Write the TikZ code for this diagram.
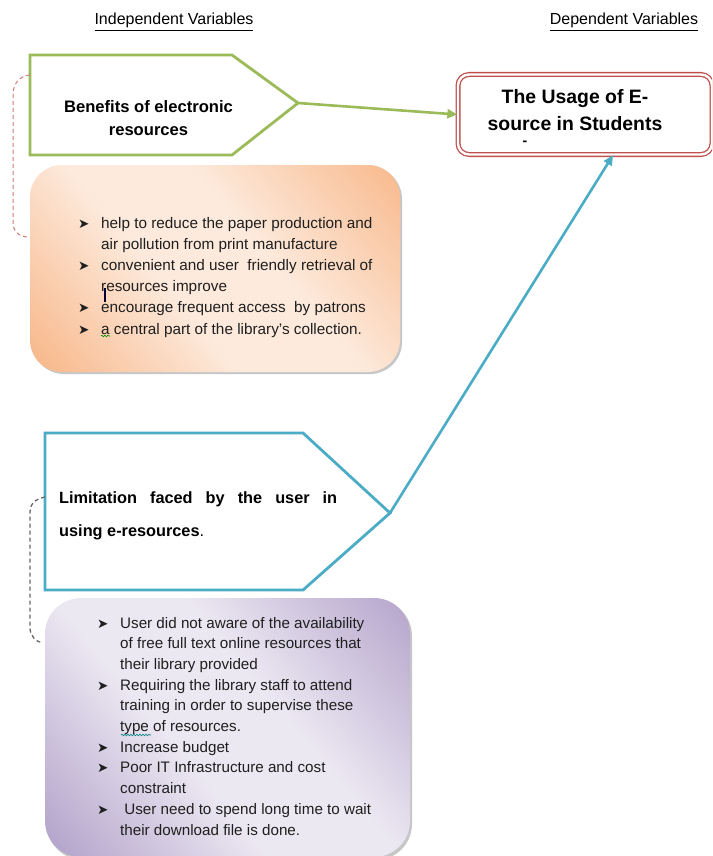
\documentclass[tikz,border=0pt]{standalone}
\usepackage{fontspec}
\setmainfont{Liberation Sans}
\newfontfamily\dejavu{DejaVu Sans}
\usetikzlibrary{arrows.meta,decorations.pathmorphing}
\definecolor{ogreen}{RGB}{155,187,89}
\definecolor{oblue}{RGB}{75,172,198}
\definecolor{ored}{RGB}{192,80,77}
\definecolor{orangeout}{RGB}{247,176,126}
\definecolor{orangein}{RGB}{253,234,220}
\definecolor{purpout}{RGB}{170,152,196}
\definecolor{purpin}{RGB}{236,232,242}
\pgfdeclarehorizontalshading{orangelin}{100bp}{color(0bp)=(orangeout); color(12bp)=(orangeout); color(42bp)=(orangein); color(58bp)=(orangein); color(90bp)=(orangeout); color(100bp)=(orangeout)}
\pgfdeclarehorizontalshading{purplin}{100bp}{color(0bp)=(purpout); color(12bp)=(purpout); color(42bp)=(purpin); color(58bp)=(purpin); color(90bp)=(purpout); color(100bp)=(purpout)}
\newcommand{\bul}{{\dejavu\fontsize{13.5}{12}\selectfont ➤}}
\begin{document}
\begin{tikzpicture}[x=1pt,y=-1pt,
  header/.style={font=\fontsize{16}{19}\selectfont, anchor=base, inner sep=0pt},
  pentgreen/.style={draw=ogreen, line width=2.8pt, fill=white, line join=miter},
  pentblue/.style={draw=oblue, line width=2.8pt, fill=white, line join=miter},
  conn/.style={line width=2.6pt, -{Triangle[length=10pt,width=9pt]}},
  rdash/.style={draw=ored!75, line width=1pt, dash pattern=on 4pt off 3pt},
  gdash/.style={draw=black!60, line width=1.3pt, dash pattern=on 4pt off 3pt},
  listtext/.style={anchor=base west, inner sep=0pt, text=black!88},
  usagebox/.style={draw=ored, line width=1.3pt, double=white, double distance=2.4pt, rounded corners=11pt, minimum width=254pt, minimum height=80pt, inner sep=0pt},
  squig/.style={decorate, decoration={snake, amplitude=0.8pt, segment length=3pt}, line width=0.6pt}
]
\clip (0,0) rectangle (712,856);
\fill[white] (0,0) rectangle (712,856);

% headers
\node[header] (ind) at (174,25) {\underline{Independent Variables}};
\node[header] (dep) at (624,25) {\underline{Dependent Variables}};

% orange box
\fill[black!22, rounded corners=32pt] (32,167) rectangle (402,374);
\shade[shading=orangelin, shading angle=40, rounded corners=32pt] (30,165) rectangle (400,372);
\node[listtext, font=\fontsize{15.3}{21.2}\selectfont] (olist) at (78,228) {\begin{tabular}[t]{@{}p{23pt}@{}l@{}}
\bul & help to reduce the paper production and\\
 & air pollution from print manufacture\\
\bul & convenient and user\ \ friendly retrieval of\\
 & resources improve\\
\bul & encourage frequent access\ \ by patrons\\
\bul & a central part of the library's\ collection.
\end{tabular}};
\draw[line width=1.6pt, black!80!blue] (105,288) -- (105,302);
\draw[squig, green!55!black] (101,336) -- (110,336);

% purple box
\fill[black!22, rounded corners=36pt] (47,600) rectangle (412,860);
\shade[shading=purplin, shading angle=40, rounded corners=36pt] (45,598) rectangle (410,857);
\node[listtext, font=\fontsize{15.2}{20.7}\selectfont] (plist) at (97,628) {\begin{tabular}[t]{@{}p{23pt}@{}l@{}}
\bul & User did not aware of the availability\\
 & of free full text online resources that\\
 & their library provided\\
\bul & Requiring the library staff to attend\\
 & training in order to supervise these\\
 & type of resources.\\
\bul & Increase budget\\
\bul & Poor IT Infrastructure and cost\\
 & constraint\\
\bul & \ User need to spend long time to wait\\
 & their download file is done.
\end{tabular}};
\draw[squig, green!50!blue] (121,735) -- (151,735);

% green pentagon
\coordinate (gtip) at (298,103);
\coordinate (gl) at (30,75);
\draw[pentgreen] (30,55) -- (232,55) -- (gtip) -- (232,155) -- (30,155) -- cycle;
\node[font=\bfseries\fontsize{16.6}{23}\selectfont, anchor=base, inner sep=0pt] (ben) at (148.5,113)
  {\begin{tabular}[t]{@{}c@{}}Benefits of electronic\\resources\end{tabular}};

% blue pentagon
\coordinate (btip) at (390,513);
\coordinate (bl) at (45,497);
\draw[pentblue] (45,433) -- (303,433) -- (btip) -- (303,590) -- (45,590) -- cycle;
\node[font=\bfseries\fontsize{16.3}{33}\selectfont, anchor=base west, inner sep=0pt] (lim) at (59,503)
  {\begin{tabular}[t]{@{}l@{}}\makebox[278pt][s]{Limitation faced by the user in}\\using e-resources{\mdseries .}\end{tabular}};

% usage box
\node[usagebox] (usage) at (585,114.5) {};
\node[font=\bfseries\fontsize{19.4}{27}\selectfont, anchor=base, inner sep=0pt] (usagetxt) at (575,104)
  {\begin{tabular}[t]{@{}c@{}}The Usage of E-\\source in Students\end{tabular}};
\node[font=\bfseries\fontsize{14}{14}\selectfont, inner sep=0pt] (dash) at (525,143) {-};

% dashed brackets
\coordinate (ol) at (27,237);
\coordinate (pl) at (43,643);
\draw[rdash] (gl) .. controls (19,76) and (13,84) .. (13,95) -- (13,222) .. controls (13,231) and (18,236) .. (ol);
\draw[gdash] (bl) .. controls (38,498) and (30,502) .. (30,512) -- (30,628) .. controls (30,636) and (36,642) .. (pl);

% arrows
\draw[conn, draw=ogreen, fill=ogreen] (gtip) -- (usage.west);
\draw[conn, draw=oblue, fill=oblue] (btip) -- ([xshift=28pt]usage.south);
\end{tikzpicture}
\end{document}
